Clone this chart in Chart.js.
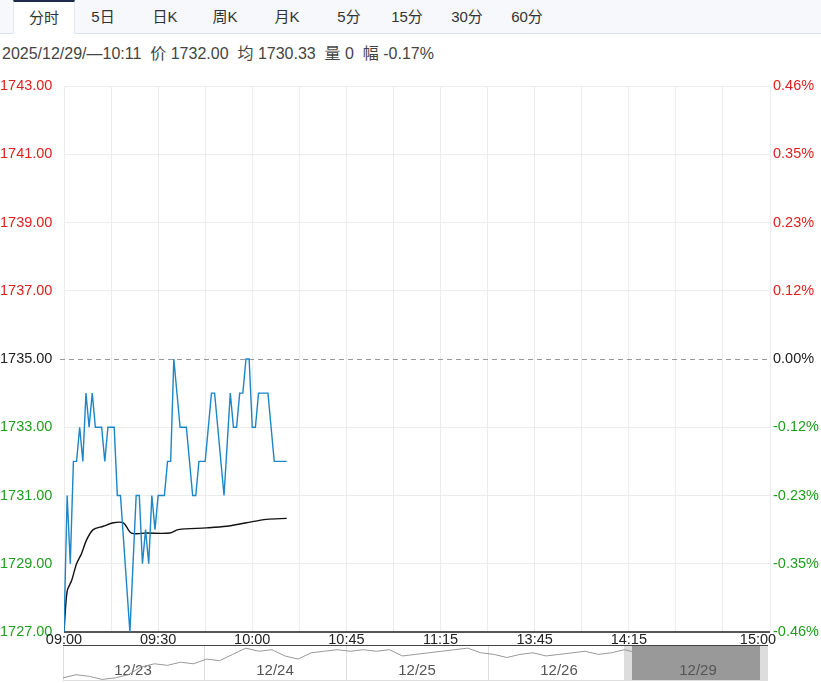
<!DOCTYPE html>
<html><head><meta charset="utf-8">
<script src="https://cdn.jsdelivr.net/npm/chart.js@4"></script>
<style>
body{margin:0;width:821px;height:683px;background:#fff;font-family:"Liberation Sans","Noto Sans CJK SC",sans-serif;position:relative;overflow:hidden}
#tabs{position:absolute;left:0;top:0;width:821px;height:33px;background:#f6f8fb;border-bottom:1px solid #dde3ec}
.tab{position:absolute;top:0;height:33px;line-height:33px;font-size:15px;color:#333;text-align:center}
.sel{background:#fff;border-top:2px solid #1e2a4a;height:32px;line-height:31px;border-left:1px solid #e3e7ee;border-right:1px solid #e3e7ee}
#info{position:absolute;left:2px;top:40px;font-size:16px;color:#444;white-space:nowrap}
#c1{position:absolute;left:0;top:70px}
#c2{position:absolute;left:63px;top:645px}
</style></head><body>
<div id="tabs">
<div class="tab sel" style="left:13px;width:60px">分时</div>
<div class="tab" style="left:80px;width:46px">5日</div>
<div class="tab" style="left:140px;width:50px">日K</div>
<div class="tab" style="left:200px;width:50px">周K</div>
<div class="tab" style="left:262px;width:50px">月K</div>
<div class="tab" style="left:326px;width:46px">5分</div>
<div class="tab" style="left:384px;width:46px">15分</div>
<div class="tab" style="left:444px;width:46px">30分</div>
<div class="tab" style="left:504px;width:46px">60分</div>
</div>
<div id="info">2025/12/29/—10:11&nbsp; 价 1732.00&nbsp; 均 1730.33&nbsp; 量 0&nbsp; 幅 -0.17%</div>
<canvas id="c1" width="821" height="575"></canvas>
<canvas id="c2" width="705" height="36"></canvas>
<script>
const baseLine = 1735;
const yTicks = [1727,1729,1731,1733,1735,1737,1739,1741,1743];
const pctLabels = ['-0.46%','-0.35%','-0.23%','-0.12%','0.00%','0.12%','0.23%','0.35%','0.46%'];
const timeLabels = ['09:00','09:30','10:00','10:45','11:15','13:45','14:15','15:00'];
const timeLabelMinutes = [0,30,60,90,120,150,180,225];
const priceMinutes = [0,1,2,3,4,5,6,7,8,9,10,12,13,14,16,17,18,21,23,24,25,26,27,28,29,30,32,33,34,35,37,39,41,42,43,45,47,48,51,53,54,55,56,57,58,59,60,61,62,65,67,71];
const prices = [1727,1731,1729,1732,1732,1733,1732,1734,1733,1734,1733,1733,1732,1733,1733,1731,1731,1727,1731,1731,1729,1730,1729,1731,1730,1731,1731,1732,1732,1735,1733,1733,1731,1731,1732,1732,1734,1734,1731,1734,1733,1733,1734,1734,1735,1735,1733,1733,1734,1734,1732,1732];
const avgMinutes = [0,1,2.4,4,5.6,7.2,9.3,12.5,15.7,18.9,21.5,26.3,33.7,36.4,45.4,51.8,58.1,64.5,71];
const avgPrices = [1727,1728.2,1728.5,1729,1729.3,1729.7,1730,1730.1,1730.2,1730.2,1729.9,1729.9,1729.9,1730.0,1730.05,1730.1,1730.2,1730.3,1730.33];
const navValues = [1714,1716,1715,1713,1714,1716,1721,1723,1722,1724,1723,1726,1725,1729,1733,1731,1732,1728,1726,1730,1731,1732,1731,1732,1731,1732,1728,1729,1730,1731,1732,1733,1730,1729,1727,1729,1730,1728,1729,1730,1731,1729,1730,1732,1730,1731];

const red='#e0201e', green='#1ea01e';
const deco={id:'deco',
 beforeDatasetsDraw(c){const {ctx,chartArea:a,scales:{x,y}}=c;ctx.save();
  const yy=y.getPixelForValue(baseLine);ctx.strokeStyle='#999';ctx.setLineDash([5,4]);ctx.lineWidth=1;
  ctx.beginPath();ctx.moveTo(60,yy+0.5);ctx.lineTo(a.right,yy+0.5);ctx.stroke();ctx.setLineDash([]);
  ctx.strokeStyle='#555';ctx.lineWidth=2;ctx.beginPath();ctx.moveTo(a.left,a.bottom);ctx.lineTo(a.right,a.bottom);ctx.stroke();
  ctx.restore();},
 afterDraw(c){const {ctx,chartArea:a,scales:{x}}=c;ctx.save();ctx.font='14.5px "Liberation Sans", sans-serif';ctx.fillStyle='#222';ctx.textBaseline='top';
  timeLabels.forEach((t,i)=>{let px=x.getPixelForValue(timeLabelMinutes[i]);ctx.textAlign='center';if(i===timeLabels.length-1)px=a.right-12;ctx.fillText(t,px,a.bottom+1);});
  ctx.restore();}};
new Chart(document.getElementById('c1'),{type:'line',
 data:{datasets:[
  {data:priceMinutes.map((m,i)=>({x:m,y:prices[i]})),borderColor:'#1c86c6',borderWidth:1.4,pointRadius:0,tension:0},
  {data:avgMinutes.map((m,i)=>({x:m,y:avgPrices[i]})),borderColor:'#111',borderWidth:1.4,pointRadius:0,tension:0.3}]},
 options:{responsive:false,animation:false,layout:{padding:{top:16,bottom:0}},
  plugins:{legend:{display:false},tooltip:{enabled:false}},
  scales:{
   x:{type:'linear',min:0,max:225,afterBuildTicks(s){s.ticks=[];for(let v=0;v<=225;v+=15)s.ticks.push({value:v});},
      ticks:{display:false},grid:{color:'#ececec',drawTicks:false},border:{display:false},afterFit(s){s.height=13;}},
   y:{position:'left',min:1727,max:1743,afterBuildTicks(s){s.ticks=yTicks.map(v=>({value:v}));},
      ticks:{padding:4,crossAlign:'far',font:{family:'Liberation Sans',size:14.5},
        color:(c)=>c.tick.value>baseLine?red:(c.tick.value<baseLine?green:'#222'),callback:v=>v.toFixed(2)},
      grid:{color:(c)=>c.tick.value===baseLine?'rgba(0,0,0,0)':'#ececec',drawTicks:false},border:{display:false},afterFit(s){s.width=64;}},
   y2:{position:'right',min:1727,max:1743,afterBuildTicks(s){s.ticks=yTicks.map(v=>({value:v}));},
      ticks:{padding:3,font:{family:'Liberation Sans',size:14.5},
        color:(c)=>c.tick.value>baseLine?red:(c.tick.value<baseLine?green:'#222'),callback:(v)=>pctLabels[yTicks.indexOf(v)]},
      grid:{display:false,drawTicks:false},border:{display:false},afterFit(s){s.width=51;}}}},
 plugins:[deco]});

const navDeco={id:'nav',beforeDatasetsDraw(c){const {ctx}=c;ctx.save();
  ctx.fillStyle='#999';ctx.fillRect(565,0,140,36);ctx.fillStyle='#ddd';ctx.fillRect(561,0,8,36);ctx.fillRect(697,0,8,36);
  ctx.strokeStyle='#ddd';ctx.lineWidth=1;[141,283,425].forEach(px=>{ctx.beginPath();ctx.moveTo(px+.5,0);ctx.lineTo(px+.5,36);ctx.stroke();});
  ctx.strokeRect(.5,.5,704,35);ctx.strokeStyle='#444';ctx.lineWidth=2;ctx.beginPath();ctx.moveTo(0,0);ctx.lineTo(705,0);ctx.stroke();
  ctx.font='15px "Liberation Sans", sans-serif';ctx.fillStyle='#555';ctx.textAlign='center';ctx.textBaseline='middle';
  [['12/23',70],['12/24',212],['12/25',354],['12/26',496],['12/29',635]].forEach(([t,px])=>ctx.fillText(t,px,26));ctx.restore();}};
new Chart(document.getElementById('c2'),{type:'line',
 data:{labels:navValues.map((v,i)=>i),datasets:[{data:navValues,borderColor:'#999',borderWidth:1,pointRadius:0}]},
 options:{responsive:false,animation:false,layout:{padding:0},plugins:{legend:{display:false},tooltip:{enabled:false}},
  scales:{x:{type:'linear',min:0,max:54,display:false},y:{min:1712,max:1735,display:false}}},plugins:[navDeco]});
</script></body></html>
